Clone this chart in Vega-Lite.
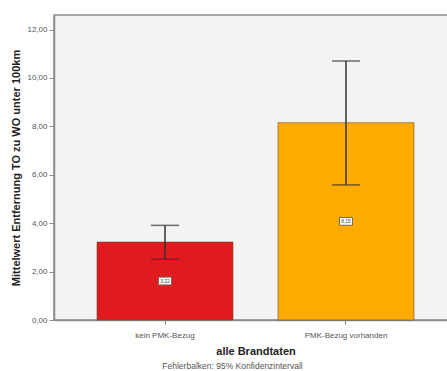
{
  "$schema": "https://vega.github.io/schema/vega-lite/v6.json",
  "autosize": {"type": "none"},
  "padding": {"left": 54, "top": 15, "right": 0, "bottom": 51},
  "width": 403,
  "height": 305,
  "background": "white",
  "config": {
    "locale": {"number": {"decimal": ",", "thousands": ".", "grouping": [3], "currency": ["", " €"]}},
    "view": {"fill": "#f3f3f3", "stroke": "#8c8c8c", "strokeWidth": 1.5},
    "font": "Liberation Sans"
  },
  "data": {
    "values": [
      {"gruppe": "kein PMK-Bezug", "mittelwert": 3.22, "unten": 2.51, "oben": 3.91},
      {"gruppe": "PMK-Bezug vorhanden", "mittelwert": 8.15, "unten": 5.58, "oben": 10.70}
    ]
  },
  "title": {"text": "Fehlerbalken: 95% Konfidenzintervall", "orient": "bottom", "fontSize": 8.5, "fontWeight": "normal", "color": "#555", "offset": 6, "dx": -23},
  "encoding": {
    "x": {
      "field": "gruppe", "type": "nominal", "sort": null,
      "scale": {"paddingInner": 0.2486, "paddingOuter": 0.2376},
      "axis": {"labelAngle": 0, "labelFontSize": 8, "labelColor": "#555", "tickSize": 4, "tickColor": "#8c8c8c", "domainColor": "#8c8c8c", "domainWidth": 1.5, "labelPadding": 7,
        "title": "alle Brandtaten", "titleFontSize": 11, "titleFontWeight": "bold", "titleColor": "#222", "titlePadding": 6}
    }
  },
  "layer": [
    {
      "mark": {"type": "bar", "stroke": "#6b4a2a", "strokeOpacity": 0.6, "strokeWidth": 1},
      "encoding": {
        "y": {"field": "mittelwert", "type": "quantitative",
          "scale": {"domain": [0, 12.6], "nice": false},
          "axis": {"values": [0, 2, 4, 6, 8, 10, 12], "format": ".2f", "labelFontSize": 8, "labelColor": "#555", "tickSize": 5, "tickColor": "#8c8c8c", "domainColor": "#8c8c8c", "domainWidth": 1.5, "grid": false,
            "title": "Mittelwert Entfernung TO zu WO unter 100km", "titleFontSize": 11, "titleFontWeight": "bold", "titleColor": "#222", "titlePadding": 5}},
        "color": {"field": "gruppe", "type": "nominal", "scale": {"domain": ["kein PMK-Bezug", "PMK-Bezug vorhanden"], "range": ["#e01a1e", "#ffab00"]}, "legend": null}
      }
    },
    {
      "mark": {"type": "rule", "color": "#333333", "strokeWidth": 1.5},
      "encoding": {"y": {"field": "unten", "type": "quantitative"}, "y2": {"field": "oben"}}
    },
    {
      "mark": {"type": "tick", "color": "#333333", "thickness": 1.5, "size": 28},
      "encoding": {"y": {"field": "unten", "type": "quantitative"}}
    },
    {
      "mark": {"type": "tick", "color": "#333333", "thickness": 1.5, "size": 28},
      "encoding": {"y": {"field": "oben", "type": "quantitative"}}
    },
    {
      "transform": [{"calculate": "datum.mittelwert / 2", "as": "mitte"}],
      "layer": [
        {
          "mark": {"type": "point", "shape": "M-1,-0.6H1V0.6H-1Z", "filled": true, "fill": "white", "stroke": "#7a6a50", "strokeWidth": 1, "size": 169, "opacity": 1},
          "encoding": {"y": {"field": "mitte", "type": "quantitative"}}
        },
        {
          "mark": {"type": "text", "fontSize": 5, "color": "#444"},
          "encoding": {"y": {"field": "mitte", "type": "quantitative"}, "text": {"field": "mittelwert", "type": "quantitative", "format": ".2f"}}
        }
      ]
    }
  ]
}
